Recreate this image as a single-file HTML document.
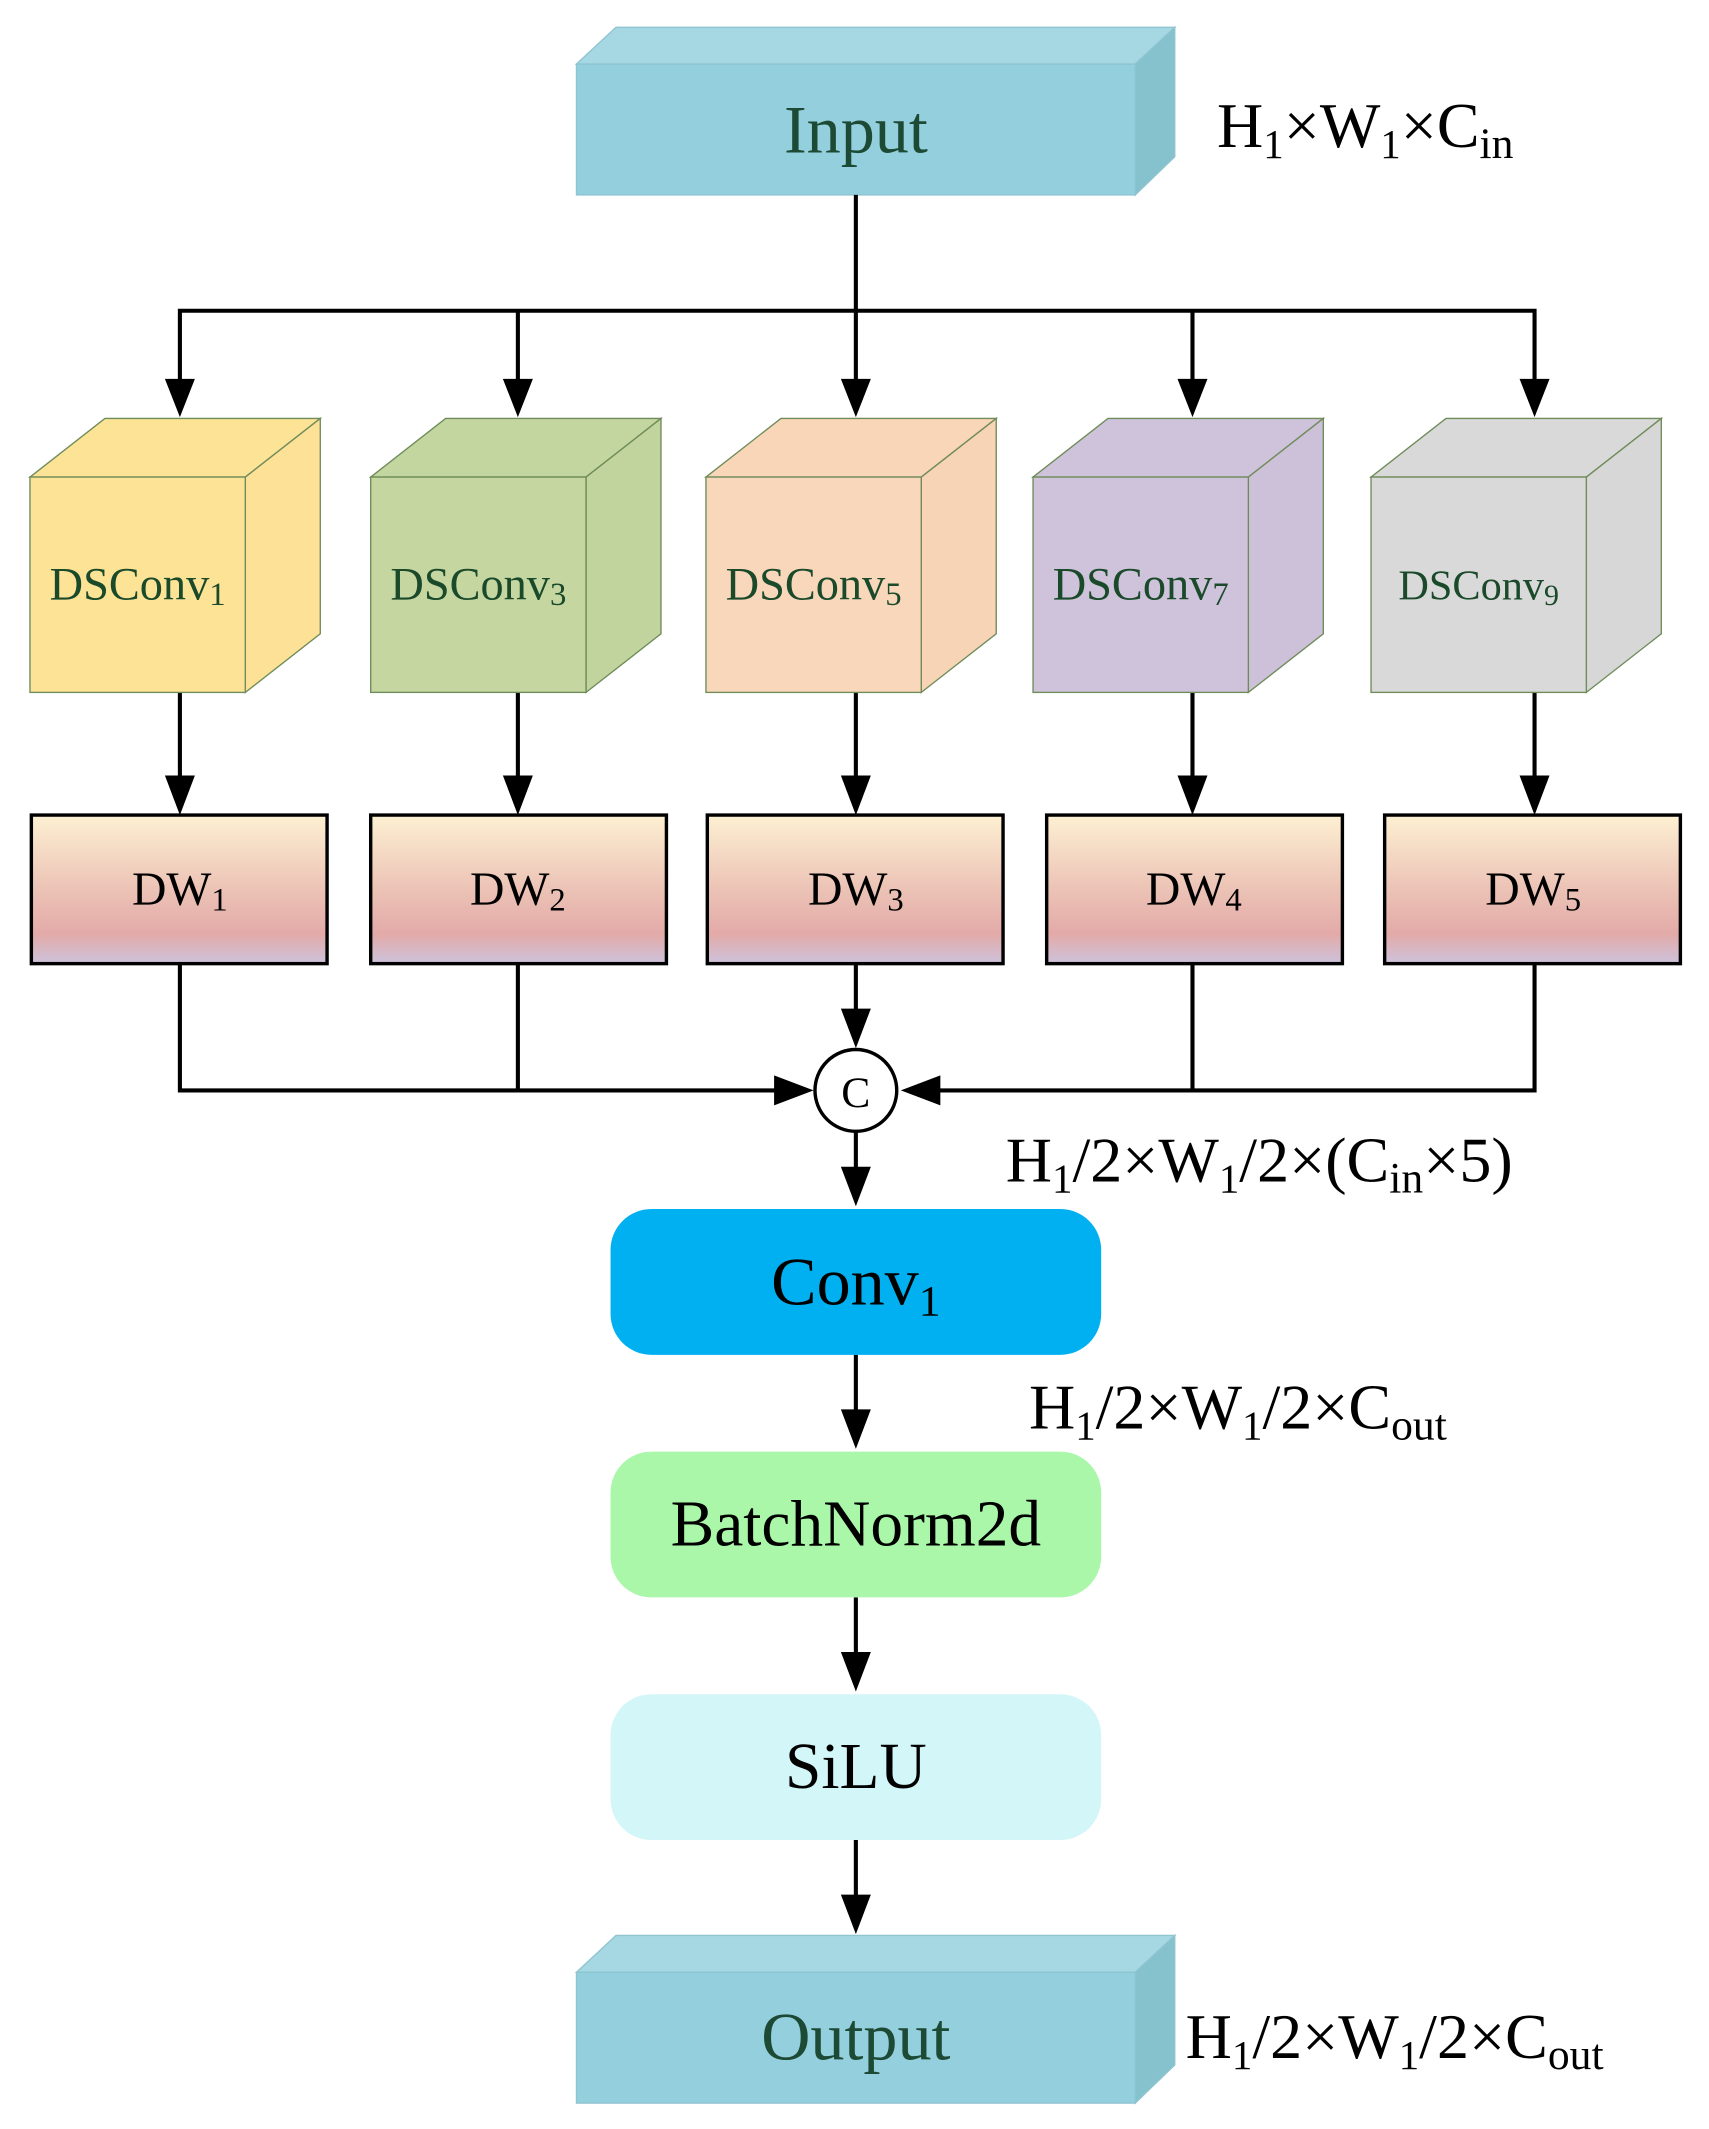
<!DOCTYPE html>
<html><head><meta charset="utf-8"><style>html,body{margin:0;padding:0;background:#fff}svg{display:block}</style></head>
<body>
<svg width="1709" height="2129" viewBox="0 0 1254 1562" preserveAspectRatio="none" xmlns="http://www.w3.org/2000/svg" font-family="'Liberation Serif', serif">
<defs>
<linearGradient id="dw" x1="0" y1="0" x2="0" y2="1">
<stop offset="0" stop-color="#fdf0d2"/><stop offset="0.5" stop-color="#ecc3b6"/><stop offset="0.8" stop-color="#e3aaa8"/><stop offset="1" stop-color="#cdc2dc"/>
</linearGradient>
</defs>
<g stroke="#8fc4d0" stroke-width="1">
<polygon points="423,47 452,20 862,20 833,47" fill="#a6d8e3"/>
<polygon points="833,47 862,20 862,115 833,143" fill="#86c1ce"/>
<rect x="423" y="47" width="410" height="96" fill="#93cfdc"/>
</g>
<text x="628" y="112" font-size="50" text-anchor="middle" fill="#1d4a34">Input</text>
<text x="893" y="108" font-size="47">H<tspan font-size="30" dy="8">1</tspan><tspan dy="-8">×W</tspan><tspan font-size="30" dy="8">1</tspan><tspan dy="-8">×C</tspan><tspan font-size="32" dy="8">in</tspan></text>

<g stroke="#000" stroke-width="3" fill="none">
<line x1="628" y1="143" x2="628" y2="285"/>
<polyline points="132,285 132,228 1126,228 1126,285"/>
<line x1="380" y1="228" x2="380" y2="285"/>
<line x1="875" y1="228" x2="875" y2="285"/>
<line x1="132" y1="508" x2="132" y2="575"/>
<line x1="380" y1="508" x2="380" y2="575"/>
<line x1="628" y1="508" x2="628" y2="575"/>
<line x1="875" y1="508" x2="875" y2="575"/>
<line x1="1126" y1="508" x2="1126" y2="575"/>
<polyline points="132,707 132,800 575,800"/>
<line x1="380" y1="707" x2="380" y2="800"/>
<polyline points="1126,707 1126,800 682,800"/>
<line x1="875" y1="707" x2="875" y2="800"/>
<line x1="628" y1="707" x2="628" y2="747"/>
<line x1="628" y1="830" x2="628" y2="862"/>
<line x1="628" y1="994" x2="628" y2="1040"/>
<line x1="628" y1="1172" x2="628" y2="1218"/>
<line x1="628" y1="1350" x2="628" y2="1396"/>
</g>
<g fill="#000">
<polygon points="121,278 143,278 132,306"/>
<polygon points="369,278 391,278 380,306"/>
<polygon points="617,278 639,278 628,306"/>
<polygon points="864,278 886,278 875,306"/>
<polygon points="1115,278 1137,278 1126,306"/>
<polygon points="121,569 143,569 132,598"/>
<polygon points="369,569 391,569 380,598"/>
<polygon points="617,569 639,569 628,598"/>
<polygon points="864,569 886,569 875,598"/>
<polygon points="1115,569 1137,569 1126,598"/>
<polygon points="617,740 639,740 628,769"/>
<polygon points="568,789 568,811 597,800"/>
<polygon points="690,789 690,811 661,800"/>
<polygon points="617,856 639,856 628,885"/>
<polygon points="617,1034 639,1034 628,1063"/>
<polygon points="617,1212 639,1212 628,1241"/>
<polygon points="617,1390 639,1390 628,1419"/>
</g>

<g stroke="#6f8c5a" stroke-width="1">
<g><polygon points="22,350 77,307 235,307 180,350" fill="#fde396"/><polygon points="180,350 235,307 235,465 180,508" fill="#fde196"/><rect x="22" y="350" width="158" height="158" fill="#fde396"/></g>
<g><polygon points="272,350 327,307 485,307 430,350" fill="#c4d6a0"/><polygon points="430,350 485,307 485,465 430,508" fill="#c2d49e"/><rect x="272" y="350" width="158" height="158" fill="#c5d6a1"/></g>
<g><polygon points="518,350 573,307 731,307 676,350" fill="#f9d6b8"/><polygon points="676,350 731,307 731,465 676,508" fill="#f8d4b6"/><rect x="518" y="350" width="158" height="158" fill="#f9d7ba"/></g>
<g><polygon points="758,350 813,307 971,307 916,350" fill="#cfc3dc"/><polygon points="916,350 971,307 971,465 916,508" fill="#cdc1da"/><rect x="758" y="350" width="158" height="158" fill="#cfc3dc"/></g>
<g><polygon points="1006,350 1061,307 1219,307 1164,350" fill="#d9d9d9"/><polygon points="1164,350 1219,307 1219,465 1164,508" fill="#d7d7d7"/><rect x="1006" y="350" width="158" height="158" fill="#d9d9d9"/></g>
</g>
<g font-size="34" fill="#1a4a2a" text-anchor="middle">
<text x="101" y="440">DSConv<tspan font-size="24" dy="4">1</tspan></text>
<text x="351" y="440">DSConv<tspan font-size="24" dy="4">3</tspan></text>
<text x="597" y="440">DSConv<tspan font-size="24" dy="4">5</tspan></text>
<text x="837" y="440">DSConv<tspan font-size="24" dy="4">7</tspan></text>
<text x="1085" y="440" font-size="31">DSConv<tspan font-size="22" dy="4">9</tspan></text>
</g>

<g stroke="#000" stroke-width="2.5" fill="url(#dw)">
<rect x="23" y="598" width="217" height="109"/>
<rect x="272" y="598" width="217" height="109"/>
<rect x="519" y="598" width="217" height="109"/>
<rect x="768" y="598" width="217" height="109"/>
<rect x="1016" y="598" width="217" height="109"/>
</g>
<g font-size="35" text-anchor="middle" fill="#000">
<text x="132" y="664">DW<tspan font-size="24" dy="4">1</tspan></text>
<text x="380" y="664">DW<tspan font-size="24" dy="4">2</tspan></text>
<text x="628" y="664">DW<tspan font-size="24" dy="4">3</tspan></text>
<text x="876" y="664">DW<tspan font-size="24" dy="4">4</tspan></text>
<text x="1125" y="664">DW<tspan font-size="24" dy="4">5</tspan></text>
</g>

<circle cx="628" cy="800" r="30" fill="#fff" stroke="#000" stroke-width="2.5"/>
<text x="628" y="812" font-size="32" text-anchor="middle">C</text>

<text x="738" y="867" font-size="47">H<tspan font-size="30" dy="8">1</tspan><tspan dy="-8">/2×W</tspan><tspan font-size="30" dy="8">1</tspan><tspan dy="-8">/2×(C</tspan><tspan font-size="32" dy="8">in</tspan><tspan dy="-8">×5)</tspan></text>

<rect x="448" y="887" width="360" height="107" rx="30" fill="#00b0f0"/>
<text x="628" y="957" font-size="50" text-anchor="middle" fill="#000">Conv<tspan font-size="32" dy="8">1</tspan></text>

<text x="755" y="1048" font-size="47">H<tspan font-size="30" dy="8">1</tspan><tspan dy="-8">/2×W</tspan><tspan font-size="30" dy="8">1</tspan><tspan dy="-8">/2×C</tspan><tspan font-size="32" dy="8">out</tspan></text>

<rect x="448" y="1065" width="360" height="107" rx="30" fill="#aaf7a9"/>
<text x="628" y="1134" font-size="48" text-anchor="middle">BatchNorm2d</text>

<rect x="448" y="1243" width="360" height="107" rx="30" fill="#d3f6f8"/>
<text x="628" y="1312" font-size="48" text-anchor="middle">SiLU</text>

<g stroke="#8fc4d0" stroke-width="1">
<polygon points="423,1447 452,1420 862,1420 833,1447" fill="#a6d8e3"/>
<polygon points="833,1447 862,1420 862,1515 833,1543" fill="#86c1ce"/>
<rect x="423" y="1447" width="410" height="96" fill="#93cfdc"/>
</g>
<text x="628" y="1511" font-size="50" text-anchor="middle" fill="#1d4a34">Output</text>
<text x="870" y="1510" font-size="47">H<tspan font-size="30" dy="8">1</tspan><tspan dy="-8">/2×W</tspan><tspan font-size="30" dy="8">1</tspan><tspan dy="-8">/2×C</tspan><tspan font-size="32" dy="8">out</tspan></text>
</svg>
</body></html>
